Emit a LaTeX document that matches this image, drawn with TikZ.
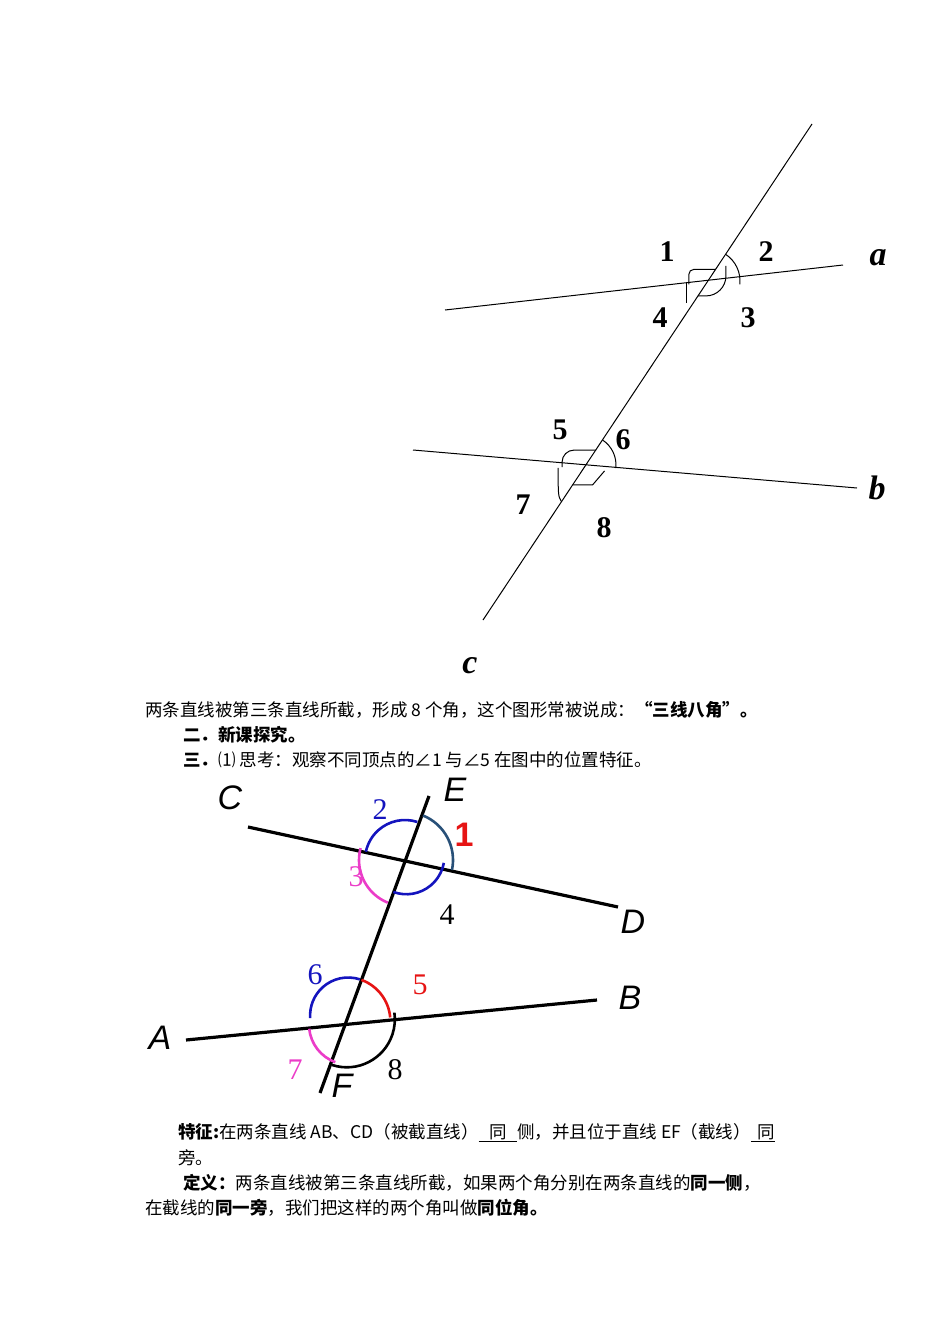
\documentclass[tikz,border=0pt]{standalone}
\usepackage{fontspec}
\setmainfont{Liberation Serif}
\setsansfont{Liberation Sans}
\newfontfamily\cjk{Noto Sans CJK SC}
\definecolor{arcblue}{RGB}{20,20,190}
\definecolor{steel}{RGB}{40,80,120}
\definecolor{mag}{RGB}{235,60,200}
\definecolor{myred}{RGB}{230,20,20}
\begin{document}
\begin{tikzpicture}[x=1pt,y=-1pt,
  thin line/.style={line width=1pt},
  thick line/.style={line width=3.2pt},
  marc/.style={line width=2.6pt},
  num/.style={font=\fontsize{30}{30}\selectfont\bfseries},
  letr/.style={font=\fontsize{34}{34}\selectfont\bfseries\itshape},
  slab/.style={font=\fontsize{34}{34}\selectfont\sffamily\itshape},
  snum/.style={font=\fontsize{30}{30}\selectfont},
  txt/.style={anchor=west,inner sep=0pt,font=\fontsize{17.5}{17.5}\selectfont\cjk}]
\useasboundingbox (0,0) rectangle (950,1344);
% top figure
\coordinate (a1) at (445,310); \coordinate (a2) at (843,265);
\coordinate (b1) at (413,450); \coordinate (b2) at (857,488);
\coordinate (c1) at (483,620); \coordinate (c2) at (812,124);
\coordinate (P) at (708,281); \coordinate (Q) at (586,465);
\draw[thin line] (a1) -- (a2);
\draw[thin line] (b1) -- (b2);
\draw[thin line] (c1) -- (c2);
% angle marks at a
\draw[thin line] ([shift={(-56:32)}]P) arc[start angle=-56,end angle=6,radius=32];
\draw[thin line] ([shift={(-56:14)}]P) -- ++(-22,0) arc[start angle=-90,end angle=-180,radius=5] -- ++(0,10);
\draw[thin line] ([shift={(-186:22)}]P) -- +(0,20);
\draw[thin line] ([shift={(-236:18)}]P) -- ++(8,0) arc[start angle=90,end angle=0,radius=20] -- ++(0,-10);
% angle marks at b
\draw[thin line] ([shift={(-56:30)}]Q) arc[start angle=-56,end angle=6,radius=30];
\draw[thin line] ([shift={(-56:18)}]Q) -- ++(-22,0) arc[start angle=-90,end angle=-180,radius=12] -- ++(0,5);
\draw[thin line] ([shift={(-186:28)}]Q) .. controls +(0,28) .. ([shift={(-236:44)}]Q);
\draw[thin line] ([shift={(-236:24)}]Q) -- +(20,0) -- +(32,-14);
\node[num] (n1) at (667,252) {1};
\node[num] (n2) at (766,252) {2};
\node[num] (n3) at (748,318) {3};
\node[num] (n4) at (660,318) {4};
\node[num] (n5) at (560,430) {5};
\node[num] (n6) at (623,440) {6};
\node[num] (n7) at (523,505) {7};
\node[num] (n8) at (604,528) {8};
\node[letr] (la) at (878,258) {a};
\node[letr] (lb) at (877,488) {b};
\node[letr] (lc) at (470,666) {c};
% text
\node[txt] (t1) at (145,710) {两条直线被第三条直线所截，形成 8 个角，这个图形常被说成：\textbf{“三线八角”。}};
\node[txt] (t2) at (183,735) {\textbf{二．新课探究。}};
\node[txt] (t3) at (183,760) {\textbf{三．}⑴ 思考：观察不同顶点的∠1 与∠5 在图中的位置特征。};
% bottom figure
\coordinate (C) at (248,827); \coordinate (D) at (618,907);
\coordinate (E) at (429,796); \coordinate (F) at (320,1093);
\coordinate (A) at (186,1040); \coordinate (B) at (597,1000);
\coordinate (X) at (405,860); \coordinate (Y) at (345,1025);
\draw[thick line] (C) -- (D);
\draw[thick line] (E) -- (F);
\draw[thick line] (A) -- (B);
\draw[marc,steel] ([shift={(-68:48)}]X) arc[start angle=-68,end angle=12,radius=48];
\draw[marc,arcblue] ([shift={(-72:40)}]X) arc[start angle=-72,end angle=-168,radius=40];
\draw[marc,mag] ([shift={(-165:46)}]X) arc[start angle=-165,end angle=-248,radius=46];
\draw[marc,arcblue] ([shift={(-250:34)}]X) arc[start angle=-250,end angle=-350,radius=38];
\draw[marc,myred] ([shift={(-70:48)}]Y) arc[start angle=-70,end angle=-5,radius=44];
\draw[marc,arcblue] ([shift={(-72:48)}]Y) arc[start angle=-72,end angle=-184,radius=38];
\draw[marc,mag] ([shift={(-186:36)}]Y) arc[start angle=-186,end angle=-250,radius=40];
\draw[marc] ([shift={(-252:42)}]Y) arc[start angle=-252,end angle=-368,radius=48];
\node[slab] (lC) at (230,798) {C};
\node[slab] (lE) at (455,790) {E};
\node[slab] (lD) at (633,922) {D};
\node[slab] (lB) at (630,998) {B};
\node[slab] (lA) at (160,1038) {A};
\node[slab] (lF) at (342,1086) {F};
\node[snum,arcblue] (m2) at (380,810) {2};
\node[font=\fontsize{34}{34}\selectfont\sffamily\bfseries,myred] (m1) at (464,835) {1};
\node[snum,mag] (m3) at (356,877) {3};
\node[snum] (m4) at (447,915) {4};
\node[snum,arcblue] (m6) at (315,975) {6};
\node[snum,myred] (m5) at (420,985) {5};
\node[snum,mag] (m7) at (295,1070) {7};
\node[snum] (m8) at (395,1070) {8};
% bottom text
\node[txt] (t4) at (178,1133) {\textbf{特征:}在两条直线 AB、CD（被截直线）\underline{\hspace{0.6em}同\hspace{0.6em}}侧，并且位于直线 EF（截线）\underline{\hspace{0.4em}同}};
\node[txt] (t5) at (178,1158) {旁。};
\node[txt] (t6) at (183,1183) {\textbf{定义：}两条直线被第三条直线所截，如果两个角分别在两条直线的\textbf{同一侧}，};
\node[txt] (t7) at (145,1208) {在截线的\textbf{同一旁}，我们把这样的两个角叫做\textbf{同位角。}};
\end{tikzpicture}
\end{document}
